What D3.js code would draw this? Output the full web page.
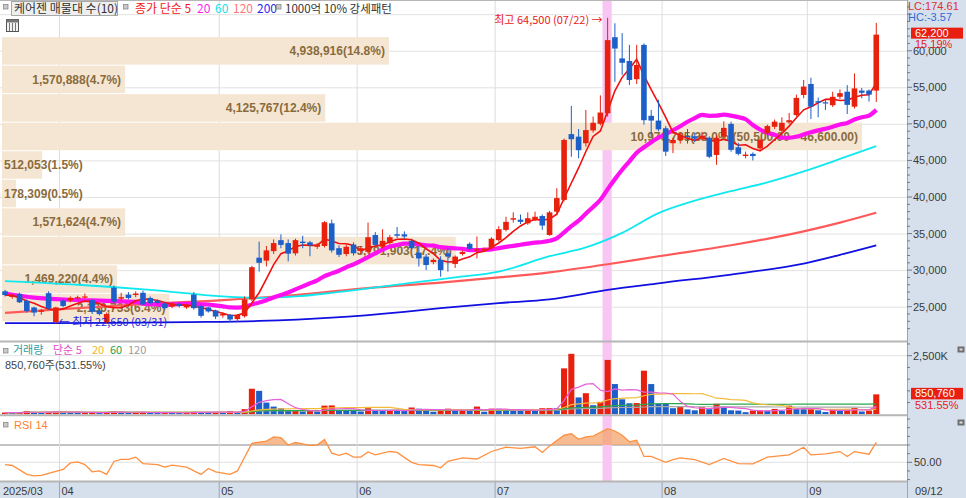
<!DOCTYPE html>
<html><head><meta charset="utf-8">
<script src="https://cdn.jsdelivr.net/npm/d3@7/dist/d3.min.js"></script>
<style>
html,body{margin:0;padding:0;background:#fff;overflow:hidden}
svg{display:block}
text{font-family:"Liberation Sans","Noto Sans CJK KR",sans-serif}
.kr{font-family:"Noto Sans CJK KR","Liberation Sans",sans-serif}
</style></head><body>
<svg id="chart" width="966" height="498"></svg>
<script>
// ---------------- DATA ----------------
const dates = [
"03/20","03/21","03/24","03/25","03/26","03/27","03/28","03/31",
"04/01","04/02","04/03","04/04","04/07","04/08","04/09","04/10","04/11","04/14","04/15","04/16","04/17","04/18","04/21","04/22","04/23","04/24","04/25","04/28","04/29","04/30",
"05/02","05/07","05/08","05/09","05/12","05/13","05/14","05/15","05/16","05/19","05/20","05/21","05/22","05/23","05/26","05/27","05/28","05/29","05/30",
"06/02","06/04","06/05","06/09","06/10","06/11","06/12","06/13","06/16","06/17","06/18","06/19","06/20","06/23","06/24","06/25","06/26","06/27","06/30",
"07/01","07/02","07/03","07/04","07/07","07/08","07/09","07/10","07/11","07/14","07/15","07/16","07/17","07/18","07/21","07/22","07/23","07/24","07/25","07/28","07/29","07/30","07/31",
"08/01","08/04","08/05","08/06","08/07","08/08","08/11","08/12","08/13","08/14","08/18","08/19","08/20","08/21","08/22","08/25","08/26","08/27","08/28","08/29",
"09/01","09/02","09/03","09/04","09/05","09/08","09/09","09/10","09/11","09/12"];

const openP = [
27100,26400,26750,25800,24900,24300,26850,22900,
25850,25850,26150,26300,25900,24500,22900,27600,26100,26650,26600,26900,26200,25850,25400,25000,25400,24900,26650,25100,24900,24500,
23800,23900,23300,23700,26000,31700,31300,32600,34100,33700,32300,33900,33800,33200,33300,36400,33000,32200,33500,
32600,32500,34800,33200,33700,34900,34900,34000,32400,31850,31100,31400,32300,30850,32200,33600,32700,32800,33000,
34100,35500,36900,36900,36400,36900,37400,34800,38000,39600,48600,48250,47350,49100,50000,51450,61850,58950,58600,56100,60800,51100,50450,
49400,47350,47800,48350,48300,48000,48100,45750,48250,50000,46800,45600,45900,46650,48700,49600,49050,50200,51200,53950,
55450,53100,52950,52550,53700,54400,52350,54550,54550,54550];

const highP = [
27300,26700,26900,26000,25000,24700,27100,25000,
26000,26400,26500,26800,26000,24800,24200,27900,26900,27000,27100,27200,26400,26000,25600,25600,25600,25400,27000,25300,25000,24600,
24200,24000,24000,26400,30600,33900,33300,34200,34900,34200,34300,34700,34000,33700,36700,36900,33400,33500,33800,
33300,36500,35200,35600,34800,35900,35300,34300,33300,32200,31600,31900,33000,32000,32700,33800,34600,33100,34500,
36000,37300,37900,37600,37900,38000,37600,38100,41200,48000,52450,49300,51900,51000,53900,64500,63750,62400,60800,60800,61000,51900,53300,
49700,48100,48800,49300,48800,48900,48300,48400,50350,50300,47400,46200,46100,48000,49900,50600,50900,51500,54000,56000,
56300,53600,53300,54400,54700,55300,56900,54900,54700,63800];

const lowP = [
26400,26100,25500,24200,23700,23900,24600,22650,
24900,25600,25900,26100,24000,23800,22700,25500,25800,26000,26300,25200,25300,25300,24600,24800,24900,24700,24600,23500,24200,23300,
23500,22900,22900,23500,25800,29800,30500,32200,33000,31200,32000,33000,31900,32900,33100,32400,31800,31900,32000,
32200,32300,33200,33000,33500,34400,34300,32800,30500,30000,30800,29100,29800,30300,32000,32700,31600,32500,32800,
33900,35300,36500,36300,36200,36700,35500,34700,37500,39400,45500,45300,46900,48800,49800,51000,55750,56700,55300,55450,49900,48250,49000,
45600,46000,47300,47300,47500,47700,45300,44400,48000,46200,45700,45300,45000,46300,48400,49300,48800,50000,51000,53500,
50650,50900,51900,52300,53400,51350,52100,53500,53050,53000];

const closeP = [
26600,26500,25600,24400,24200,24500,24800,24900,
25100,26200,26300,26400,24300,24000,24000,25700,26300,26200,26800,25300,25500,25500,24800,25450,25100,25200,24800,23750,24350,23650,
24000,23250,23900,26000,30400,31000,32700,33700,33450,32250,34100,33700,33400,33500,36550,32700,32100,33200,32300,
33000,34500,33450,34000,34500,34700,34600,33000,31600,30700,31400,30000,31850,31850,32500,32900,32850,32900,34300,
35600,36600,37100,36600,37100,37300,36100,37900,39850,47800,47900,46400,49150,50150,51550,61450,60300,58350,56000,58050,50500,50450,49250,
46200,47800,48500,48200,48000,48400,45500,48100,49450,46450,45900,45800,45600,47800,49700,50300,50150,50500,53550,55100,
52350,52900,52850,53700,54200,52600,54850,54250,54000,62200];

const volume = [
75000,60000,72000,140000,90000,80000,95000,120000,
110000,70000,65000,72000,95000,70000,85000,130000,80000,70000,75000,90000,70000,60000,75000,65000,58000,70000,110000,95000,80000,90000,
70000,140000,100000,220000,1090000,1000000,500000,330000,260000,150000,170000,120000,140000,110000,370000,380000,180000,150000,140000,
120000,260000,150000,140000,170000,160000,150000,290000,240000,190000,110000,190000,240000,170000,180000,170000,330000,110000,240000,
235000,190000,180000,170000,190000,170000,260000,270000,260000,1960000,2580000,720000,900000,390000,530000,2320000,1290000,640000,470000,480000,1860000,1290000,460000,
450000,260000,310000,210000,170000,300000,220000,450000,330000,170000,160000,90000,160000,170000,150000,230000,160000,370000,230000,220000,
240000,170000,100000,180000,160000,230000,270000,120000,160054,850760];

const ma20HeadIdx = [0,4,9,14,18];
const ma20HeadVal = [26800,26250,25950,25800,25650];

// longer moving averages (session index -> price)
const ma60Idx = [0,10,20,30,35,40,45,50,57,62,68,75,80,85,90,95,100,105,110,115,120];
const ma60Val = [28500,28000,27300,26400,26200,26400,26900,27500,28400,29000,29800,31900,33100,35100,37800,39500,40800,42000,43500,45200,46950];
const ma120Idx = [0,10,20,30,40,50,60,68,75,83,90,100,110,115,120];
const ma120Val = [24150,24800,25400,25900,26600,27550,28300,29000,29700,30800,31900,33400,35300,36500,37850];
const ma200Idx = [0,15,25,35,45,55,60,68,75,83,90,100,110,115,120];
const ma200Val = [22750,22800,22900,23050,23500,24300,24800,25500,26000,27300,28200,29400,30900,32100,33400];

// RSI(14)
const rsiIdx = [0,1,3,4,5,8,9,10,11,12,13,14,15,16,17,18,19,21,22,23,25,27,28,29,31,32,34,36,37,38,39,40,42,43,44,45,46,47,48,49,50,51,52,53,54,56,57,59,60,61,63,65,67,69,71,73,74,75,77,78,79,80,81,83,84,85,86,87,88,89,91,92,93,95,97,99,101,103,105,108,110,111,113,115,116,117,119,120];
const rsiVal = [47.4,46.3,36,34.2,35,41.8,49.3,50.5,47.4,39,40,36,51,53.4,53.4,56,48.5,47.4,44.4,46.7,44.4,36,42.9,39,36,40,71.9,74.5,79.4,78.6,70,73,69.5,70,76.4,60.6,58,60.6,56,56,62,58.6,60.6,62.5,61.4,50,47.4,46.3,43.6,51.1,55,53.8,62.5,67.4,66,68,61.4,68.9,81.3,83,76.5,79.4,80.2,88.9,86.2,81.3,73.7,75.6,56.8,56.8,50,53,55,53,47.4,54.5,48.5,48.2,56,58.6,67.4,58.6,59.8,62.4,56.8,62.4,59.4,73];

// volume profile (매물대) 10 levels
const bandLo  = [58300,54400,50500,46600,42700,38800,34900,31000,27100,23200];
const bandHi  = [62200,58300,54400,50500,46600,42700,38800,34900,31000,27100];
const bandVol = [4938916,1570888,4125767,10976735,512053,178309,1571624,5791903,1469220,2136733];
const bandPct = [14.8,4.7,12.4,33.0,1.5,0.5,4.7,17.4,4.4,6.4];

const priceTicks = [25000,30000,35000,40000,45000,50000,55000,60000];
const priceGrid = [25000,30000,35000,40000,45000,50000,55000,60000,65000];
const monthStarts = ["03/20","04/01","05/02","06/02","07/01","08/01","09/01"];
const monthLabels = ["2025/03","04","05","06","07","08","09"];
const highDate = "07/22", highVal = 64500;
const lowDate = "03/31", lowVal = 22650;
const lastDate = "09/12";

// ---------------- SCALES ----------------
const svg = d3.select('#chart');
const PR = 907;
const x = d3.scaleBand().domain(dates).range([1.4, 879.9]).padding(0);
const bw = x.bandwidth();
const cx = d => x(d) + bw/2;
const y  = d3.scaleLinear().domain([25000,55000]).range([306.7,87.3]);
const yv = d3.scaleLinear().domain([0,2500000]).range([414.3,355.7]);
const yr = d3.scaleLinear().domain([50,70]).range([462.3,445]);
const RED = '#E8200E', BLUE = '#1D5FC9';

const defs = svg.append('defs');
defs.append('clipPath').attr('id','cp').append('rect').attr('x',0).attr('y',1).attr('width',PR).attr('height',340);
defs.append('clipPath').attr('id','cv').append('rect').attr('x',0).attr('y',342).attr('width',PR).attr('height',72.5);
defs.append('clipPath').attr('id','cr').append('rect').attr('x',0).attr('y',416).attr('width',PR).attr('height',yr(70)-416);

// backgrounds
svg.append('rect').attr('width',966).attr('height',498).attr('fill','#fff');
svg.append('rect').attr('x',PR).attr('y',0).attr('width',966-PR).attr('height',498).attr('fill','#D6E0EC');
svg.append('rect').attr('x',0).attr('y',482).attr('width',PR).attr('height',16).attr('fill','#D6E0EC');

// grid
const g = svg.append('g');
g.selectAll('.pg').data(priceGrid).enter().append('line')
 .attr('x1',0).attr('x2',PR).attr('y1',d=>y(d)+0.5).attr('y2',d=>y(d)+0.5).attr('stroke','#E2E2E2');
g.append('line').attr('x1',0).attr('x2',PR).attr('y1',yv(2500000)).attr('y2',yv(2500000)).attr('stroke','#E2E2E2');
g.append('line').attr('x1',0).attr('x2',PR).attr('y1',yr(50)).attr('y2',yr(50)).attr('stroke','#E2E2E2');
g.append('line').attr('x1',0).attr('x2',PR).attr('y1',yr(70)).attr('y2',yr(70)).attr('stroke','#AFAFAF').attr('stroke-width',1.6);
g.selectAll('.vg').data(monthStarts.slice(1)).enter().append('line')
 .attr('x1',d=>x(d)).attr('x2',d=>x(d)).attr('y1',1).attr('y2',482).attr('stroke','#DCDCDC');
g.selectAll('.vb').data(monthStarts.slice(1)).enter().append('line')
 .attr('x1',d=>x(d)).attr('x2',d=>x(d)).attr('y1',482).attr('y2',498).attr('stroke','#98A6B8');

// highlight of the high day
svg.append('rect').attr('x',x(highDate)-1.5).attr('y',1).attr('width',bw+2).attr('height',480).attr('fill','#F9C6F3');

// volume profile bands
const bx = d3.scaleLinear().domain([0,d3.max(bandVol)]).range([0,860]);
const maxI = bandVol.indexOf(d3.max(bandVol));
const bandG = svg.append('g');
bandVol.forEach((v,i)=>{
  const top = y(bandHi[i])+2.5, h = y(bandLo[i])-y(bandHi[i])-1;
  bandG.append('rect').attr('x',2).attr('y',top).attr('width',bx(v)).attr('height',h).attr('fill','#F5E6D3');
  let label = d3.format(',')(v)+'('+bandPct[i].toFixed(1)+'%)';
  if(i===maxI) label += '('+d3.format(',.2f')(bandHi[i])+' - '+d3.format(',.2f')(bandLo[i])+')';
  const t = bandG.append('text').text(label).attr('y',top+h/2).attr('dy','0.36em')
     .attr('font-size',12).attr('font-weight','bold').attr('fill','#8A6B3C');
  const tw = t.node().getComputedTextLength();
  if(bx(v) > tw+8){ t.attr('x',2+bx(v)-4).attr('text-anchor','end'); }
  else { t.attr('x',4); }
});

// moving averages
function sma(arr,n){ return arr.map((_,i)=>d3.mean(arr.slice(Math.max(0,i-n+1),i+1))); }
const ma5 = sma(closeP,5);
const ma20full = sma(closeP,20);
const ma20 = ma20HeadIdx.map((k,j)=>[k,ma20HeadVal[j]]).concat(dates.map((d,i)=>[i,ma20full[i]]).filter(p=>p[0]>=19));
const lineIdx = d3.line().x(p=>cx(dates[p[0]])).y(p=>y(p[1]));
const maG = svg.append('g').attr('clip-path','url(#cp)');
const pairs = (ix,vals)=>ix.map((k,j)=>[k,vals[j]]);
maG.append('path').attr('d',lineIdx.curve(d3.curveMonotoneX)(pairs(ma200Idx,ma200Val))).attr('fill','none').attr('stroke','#1010E0').attr('stroke-width',1.8);
maG.append('path').attr('d',lineIdx.curve(d3.curveMonotoneX)(pairs(ma120Idx,ma120Val))).attr('fill','none').attr('stroke','#FF5A5A').attr('stroke-width',2.2);
maG.append('path').attr('d',lineIdx.curve(d3.curveMonotoneX)(pairs(ma60Idx,ma60Val))).attr('fill','none').attr('stroke','#10E8F0').attr('stroke-width',1.8);
maG.append('path').attr('d',lineIdx.curve(d3.curveMonotoneX)(ma20)).attr('fill','none').attr('stroke','#FF10F0').attr('stroke-width',4.2);
maG.append('path').attr('d',lineIdx.curve(d3.curveLinear)(dates.map((d,i)=>[i,ma5[i]]))).attr('fill','none').attr('stroke','#F01010').attr('stroke-width',1.6);

// candles
const cG = svg.append('g').attr('clip-path','url(#cp)');
dates.forEach((d,i)=>{
  const up = closeP[i] >= openP[i];
  const col = up ? RED : BLUE;
  cG.append('line').attr('x1',cx(d)).attr('x2',cx(d)).attr('y1',y(highP[i])).attr('y2',y(lowP[i])).attr('stroke',col).attr('stroke-width',1);
  const t = y(Math.max(openP[i],closeP[i])), b = y(Math.min(openP[i],closeP[i]));
  cG.append('rect').attr('x',cx(d)-2.8).attr('y',t).attr('width',5.6).attr('height',Math.max(1.2,b-t)).attr('fill',col);
});

// high / low annotations
svg.append('text').attr('class','kr').text('최고 '+d3.format(',')(highVal)+' ('+highDate+') →')
  .attr('x',cx(highDate)-5).attr('y',y(highVal)+2).attr('dy','0.35em').attr('text-anchor','end')
  .attr('font-size',11).attr('fill','#E82020');
svg.append('text').attr('class','kr').text('← 최저 '+d3.format(',')(lowVal)+' ('+lowDate+')')
  .attr('x',cx(lowDate)+3).attr('y',y(lowVal)-1.5).attr('dy','0.35em')
  .attr('font-size',11).attr('fill','#2424D8');

// header legend
function bullet(xp,yp){ svg.append('rect').attr('x',xp).attr('y',yp).attr('width',4.5).attr('height',4.5).attr('fill','#C9C9C9').attr('stroke','#8A8A8A').attr('stroke-width',0.8); }
bullet(3.5,4.5);
svg.append('rect').attr('x',11.5).attr('y',1.5).attr('width',106).attr('height',14).attr('fill','#EFEFEF').attr('stroke','#A8A8A8');
svg.append('text').attr('class','kr').text('케어젠 매물대 수(10)').attr('x',14).attr('y',13).attr('font-size',12).attr('fill','#333');
bullet(123.5,4.5);
const hdr = [['종가 단순 5',135,'#F21818'],['20',197,'#FF22EE'],['60',215,'#18E0E8'],['120',233,'#FF7878'],['200',257,'#2828F0']];
hdr.forEach(h=>svg.append('text').attr('class','kr').text(h[0]).attr('x',h[1]).attr('y',13).attr('font-size',12).attr('fill',h[2]));
bullet(276.5,4.5);
svg.append('text').attr('class','kr').text('1000억 10% 강세패턴').attr('x',285).attr('y',13).attr('font-size',11.5).attr('fill','#333');
// small table icon
svg.append('rect').attr('x',6.5).attr('y',19.5).attr('width',12).attr('height',12).attr('fill','#F2F2F2').attr('stroke','#555');
svg.append('rect').attr('x',6.5).attr('y',19.5).attr('width',12).attr('height',3).attr('fill','#777');
[9.5,12.5,15.5].forEach(v=>svg.append('line').attr('x1',v).attr('x2',v).attr('y1',23).attr('y2',31).attr('stroke','#777'));

// volume panel
const volG = svg.append('g').attr('clip-path','url(#cv)');
dates.forEach((d,i)=>{
  const col = (i===0 || volume[i] > volume[i-1]) ? RED : BLUE;
  volG.append('rect').attr('x',x(d)+0.6).attr('width',bw-1.2).attr('y',yv(volume[i])).attr('height',yv(0)-yv(volume[i])).attr('fill',col);
});
const vline = d3.line().x((v,i)=>cx(dates[i])).y(v=>yv(v));
[[120,'#A8A8A8'],[60,'#2AA84A'],[20,'#F2BC3A'],[5,'#E860D8']].forEach(m=>{
  volG.append('path').attr('d',vline(sma(volume,m[0]))).attr('fill','none').attr('stroke',m[1]).attr('stroke-width',1.2);
});
bullet(3.5,348.5);
[['거래량',13,'#2E9EA6'],['단순 5',53,'#E050C8'],['20',92,'#F0B428'],['60',110,'#26A04A'],['120',128,'#9A9A9A']]
 .forEach(h=>svg.append('text').attr('class','kr').text(h[0]).attr('x',h[1]).attr('y',354).attr('font-size',11).attr('fill',h[2]));
const lastVol = volume[volume.length-1], prevVol = volume[volume.length-2];
svg.append('text').text(d3.format(',')(lastVol)+'주('+(lastVol/prevVol*100).toFixed(2)+'%)')
  .attr('x',5).attr('y',369).attr('font-size',11).attr('fill','#444');

// RSI panel
const rsiPts = rsiIdx.map((k,j)=>[k,rsiVal[j]]);
const rArea = d3.area().x(p=>cx(dates[p[0]])).y0(yr(70)).y1(p=>yr(p[1]));
svg.append('path').attr('d',rArea(rsiPts)).attr('fill','#F4A46E').attr('fill-opacity',0.75).attr('clip-path','url(#cr)');
svg.append('path').attr('d',d3.line().x(p=>cx(dates[p[0]])).y(p=>yr(p[1]))(rsiPts)).attr('fill','none').attr('stroke','#FF9040').attr('stroke-width',1.3);
bullet(3.5,422.5);
svg.append('text').text('RSI 14').attr('x',14).attr('y',429).attr('font-size',11).attr('fill','#FF8030');

// panel separators
[[0.5,1],[341.5,2],[415.2,2],[481.5,2]].forEach(s=>svg.append('line').attr('x1',0).attr('x2',PR).attr('y1',s[0]).attr('y2',s[0]).attr('stroke','#B6B6B6').attr('stroke-width',s[1]));
svg.append('line').attr('x1',PR+0.5).attr('x2',PR+0.5).attr('y1',0).attr('y2',498).attr('stroke','#9AA7B8');

// right price axis
const ax = svg.append('g');
d3.range(22000,66001,1000).forEach(v=>{
  const yy = y(v); if(yy<2||yy>340) return;
  const major = v%5000===0;
  ax.append('line').attr('x1',PR).attr('x2',PR+(major?5:3)).attr('y1',yy).attr('y2',yy).attr('stroke','#707A88');
});
priceTicks.forEach(v=>ax.append('text').text(d3.format(',')(v)).attr('x',913).attr('y',y(v)).attr('dy','0.36em').attr('font-size',11).attr('fill','#3A3A3A'));
ax.append('text').text('LC:174.61').attr('x',908).attr('y',6.5).attr('dy','0.36em').attr('font-size',11).attr('fill','#E03030');
ax.append('text').text('HC:-3.57').attr('x',908).attr('y',17).attr('dy','0.36em').attr('font-size',11).attr('fill','#2E6AD8');
const lastClose = closeP[closeP.length-1], prevClose = closeP[closeP.length-2];
ax.append('rect').attr('x',911).attr('y',y(lastClose)-7).attr('width',52).attr('height',11).attr('fill','#E81E10');
ax.append('text').text(d3.format(',')(lastClose)).attr('x',915).attr('y',y(lastClose)-1.5).attr('dy','0.36em').attr('font-size',11).attr('fill','#fff');
ax.append('text').text(((lastClose/prevClose-1)*100).toFixed(2)+'%').attr('x',915).attr('y',y(lastClose)+9).attr('dy','0.36em').attr('font-size',11).attr('fill','#E82020');

// right volume axis
d3.range(500000,3000001,500000).forEach(v=>{
  const yy = yv(v); if(yy<343) return;
  ax.append('line').attr('x1',PR).attr('x2',PR+(v===2500000?5:3)).attr('y1',yy).attr('y2',yy).attr('stroke','#707A88');
});
ax.append('text').text('2,500K').attr('x',913).attr('y',yv(2500000)).attr('dy','0.36em').attr('font-size',11).attr('fill','#3A3A3A');
ax.append('rect').attr('x',911).attr('y',yv(lastVol)-6.5).attr('width',52).attr('height',11.5).attr('fill','#E81E10');
ax.append('text').text(d3.format(',')(lastVol)).attr('x',915).attr('y',yv(lastVol)-1).attr('dy','0.36em').attr('font-size',11).attr('fill','#fff');
ax.append('text').text((lastVol/prevVol*100).toFixed(2)+'%').attr('x',915).attr('y',yv(lastVol)+10.5).attr('dy','0.36em').attr('font-size',11).attr('fill','#E82020');

// right RSI axis
d3.range(10,101,10).forEach(v=>{
  const yy = yr(v); if(yy<417||yy>480) return;
  ax.append('line').attr('x1',PR).attr('x2',PR+(v===50?5:3)).attr('y1',yy).attr('y2',yy).attr('stroke','#707A88');
});
ax.append('text').text('50.00').attr('x',914).attr('y',yr(50)).attr('dy','0.36em').attr('font-size',11).attr('fill','#3A3A3A');

// panel icons
[346,419].forEach(yy=>{
  ax.append('rect').attr('x',957.5).attr('y',yy+0.5).attr('width',7).attr('height',6).attr('fill','#6E6E6E');
  ax.append('rect').attr('x',959.5).attr('y',yy+2.5).attr('width',3).attr('height',2).attr('fill','#DDD');
});

// bottom date axis
monthStarts.forEach((d,i)=>{
  ax.append('text').text(monthLabels[i]).attr('x',i===0?3:x(d)+2).attr('y',491).attr('dy','0.36em').attr('font-size',11).attr('fill','#3A3A3A');
});
ax.append('text').text(lastDate).attr('x',915).attr('y',491).attr('dy','0.36em').attr('font-size',11).attr('fill','#3A3A3A');
</script></body></html>
